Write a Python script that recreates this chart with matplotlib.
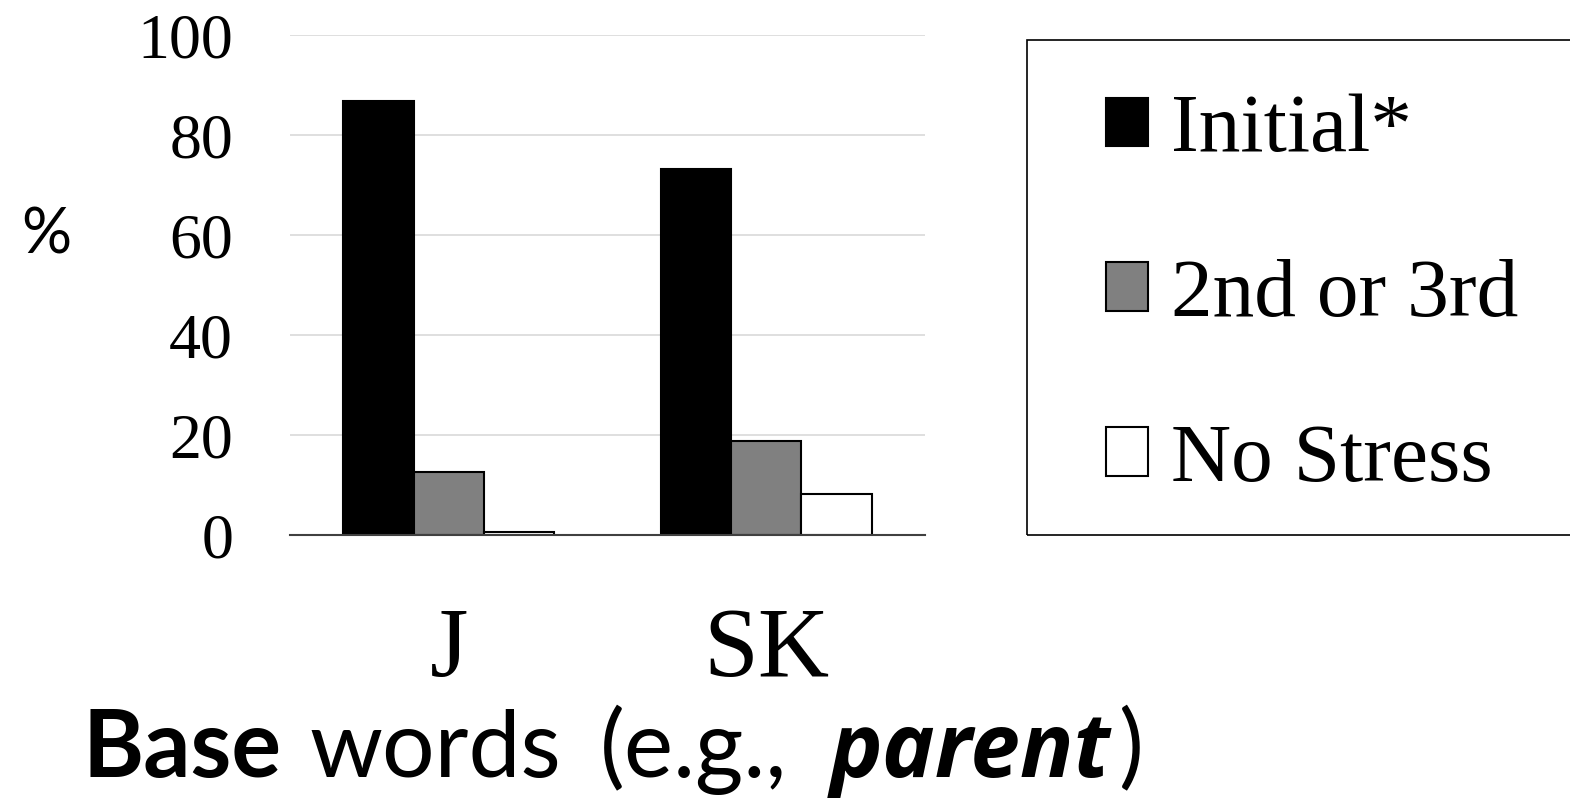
import matplotlib.pyplot as plt
import matplotlib.patches as mpatches
import matplotlib.transforms as mtransforms
import numpy as np

groups = ['J', 'SK']
series = ['Initial*', '2nd or 3rd', 'No Stress']
initial = [86.8, 73.2]
second_third = [12.6, 18.8]
no_stress = [0.7, 8.2]
colors = ['black', '#808080', 'white']

W, H = 1570, 798
fig = plt.figure(figsize=(W / 100, H / 100), dpi=100)
ax = fig.add_axes([290 / W, 1 - 535 / H, 635 / W, 500 / H])

x = np.arange(len(groups))
w = 0.222
for i, (vals, c, lab) in enumerate(zip([initial, second_third, no_stress], colors, series)):
    ax.bar(x + (i - 1) * w, vals, w, color=c, edgecolor='black', linewidth=1.5,
           label=lab, zorder=3)

ax.set_xlim(-0.5, 1.5)
ax.set_ylim(0, 100)
ax.set_yticks([0, 20, 40, 60, 80, 100])
ax.set_xticks(x)
ax.set_xticklabels(groups, fontsize=71, family='Liberation Serif')
for t in ax.get_yticklabels():
    t.set_fontsize(46)
    t.set_family('Liberation Serif')
ax.tick_params(length=0)
ax.tick_params(axis='y', pad=41)
ax.tick_params(axis='x', pad=52)
ax.grid(axis='y', color='#d9d9d9', linewidth=1.2, zorder=0)
for s in ['top', 'right', 'left']:
    ax.spines[s].set_visible(False)
ax.spines['bottom'].set_color('#404040')
ax.spines['bottom'].set_linewidth(1.5)
ax.spines['bottom'].set_zorder(4)

px = mtransforms.IdentityTransform()
fig.text(46, H - 236, '%', fontsize=45, family='Lato', ha='center', va='center',
         transform=px)

# legend box
box = mpatches.Rectangle((1027, H - 535), 560, 495, transform=px, fill=False,
                         edgecolor='black', linewidth=1.2)
fig.patches.append(box)
handles, labels = ax.get_legend_handles_labels()
fig.legend(handles, labels, loc='upper left',
           bbox_to_anchor=(1106 / W, 1 - 94 / H), frameon=False,
           prop={'family': 'Liberation Serif', 'size': 60},
           handlelength=0.5, handleheight=0.52, handletextpad=0.28,
           labelspacing=1.07, borderpad=0, borderaxespad=0)

# title pieces
base_y = H - 777
fs = 67
fig.text(82, base_y, 'Base', fontsize=fs, family='Lato', fontweight='bold',
         va='baseline', transform=px)
fig.text(309, base_y, 'words', fontsize=fs, family='Lato', va='baseline', transform=px)
fig.text(600, base_y, '(e.g.,', fontsize=fs, family='Lato', va='baseline', transform=px)
fig.text(830, base_y, 'parent', fontsize=64, family='Open Sans', fontweight='bold',
         fontstyle='italic', va='baseline', transform=px)
fig.text(1118, base_y, ')', fontsize=fs, family='Lato', va='baseline', transform=px)

fig.savefig('out.png', dpi=100)
